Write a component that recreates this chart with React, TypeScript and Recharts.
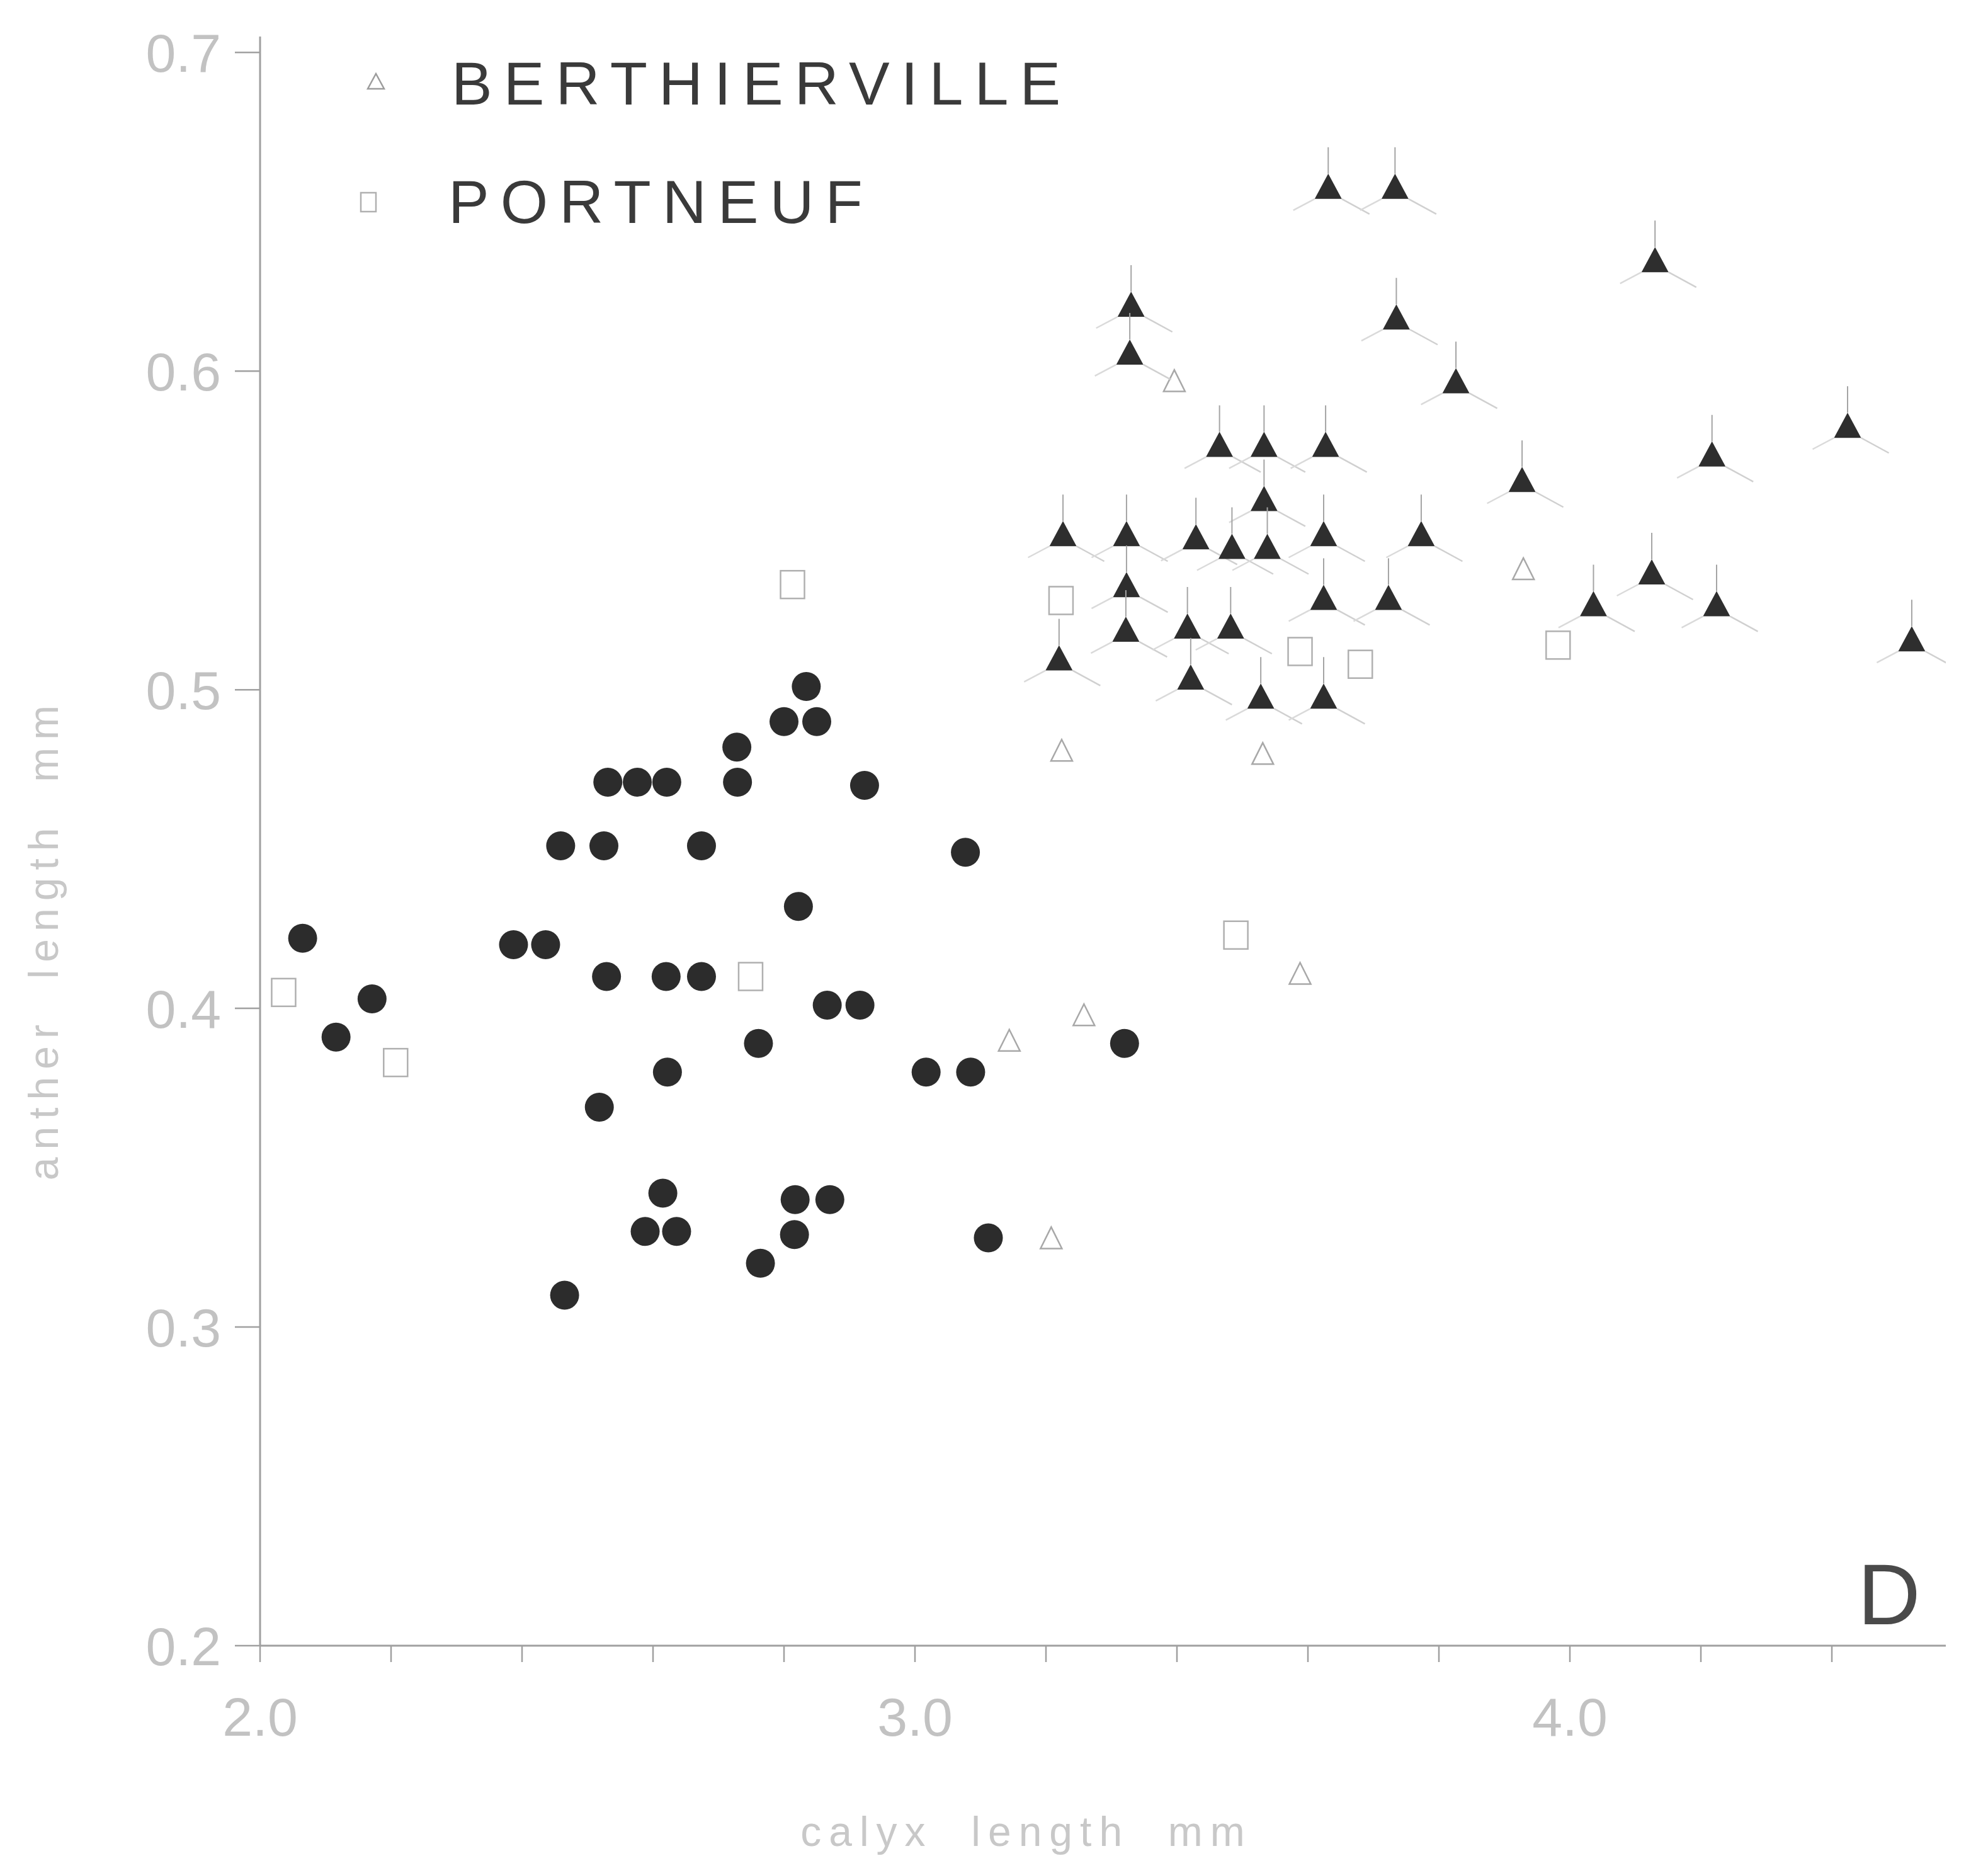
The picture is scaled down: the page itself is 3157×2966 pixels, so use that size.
import React from 'react';
import { ScatterChart, Scatter, XAxis, YAxis } from 'recharts';

// axis ticks
const xTicks = [2.0, 2.2, 2.4, 2.6, 2.8, 3.0, 3.2, 3.4, 3.6, 3.8, 4.0, 4.2, 4.4];
const xLabelled = [2.0, 3.0, 4.0];
const yTicks = [0.2, 0.3, 0.4, 0.5, 0.6, 0.7];

const legendNames = ['BERTHIERVILLE', 'PORTNEUF'];
const panelLetter = 'D';
const xTitle = 'calyx  length  mm';
const yTitle = 'anther  length  mm';

// [calyx length, anther length] in mm
const filledCircles: [number, number][] = [
  [2.065, 0.422], [2.171, 0.403], [2.116, 0.391], [2.387, 0.42], [2.436, 0.42],
  [2.459, 0.451], [2.525, 0.451], [2.529, 0.41], [2.518, 0.369], [2.465, 0.31],
  [2.531, 0.471], [2.576, 0.471], [2.621, 0.471], [2.62, 0.41], [2.674, 0.41],
  [2.622, 0.38], [2.615, 0.342], [2.588, 0.33], [2.636, 0.33], [2.674, 0.451],
  [2.728, 0.482], [2.729, 0.471], [2.761, 0.389], [2.764, 0.32], [2.8, 0.49],
  [2.834, 0.501], [2.85, 0.49], [2.822, 0.432], [2.817, 0.34], [2.87, 0.34],
  [2.816, 0.329], [2.866, 0.401], [2.916, 0.401], [2.923, 0.47], [3.017, 0.38],
  [3.085, 0.38], [3.077, 0.449], [3.112, 0.328], [3.32, 0.389],
];

const filledTriangles: [number, number][] = [
  [3.631, 0.658], [3.733, 0.658], [4.13, 0.635], [3.33, 0.621], [3.735, 0.617],
  [3.328, 0.606], [3.826, 0.597], [3.465, 0.577], [3.533, 0.577], [3.627, 0.577],
  [4.424, 0.583], [4.217, 0.574], [3.927, 0.566], [3.533, 0.56], [3.226, 0.549],
  [3.323, 0.549], [3.429, 0.548], [3.624, 0.549], [3.773, 0.549], [3.484, 0.545],
  [3.538, 0.545], [3.323, 0.533], [4.125, 0.537], [3.624, 0.529], [3.723, 0.529],
  [4.036, 0.527], [4.224, 0.527], [3.322, 0.519], [3.416, 0.52], [3.482, 0.52],
  [4.522, 0.516], [3.22, 0.51], [3.421, 0.504], [3.528, 0.498], [3.624, 0.498],
];

const berthierville: [number, number][] = [
  [3.396, 0.597], [3.929, 0.538], [3.224, 0.481], [3.531, 0.48],
  [3.588, 0.411], [3.258, 0.398], [3.144, 0.39], [3.208, 0.328],
];

const portneuf: [number, number][] = [
  [2.036, 0.405], [2.207, 0.383], [2.749, 0.41], [2.813, 0.533], [3.223, 0.528],
  [3.588, 0.512], [3.68, 0.508], [3.982, 0.514], [3.49, 0.423],
];

const rows = (pts: [number, number][]) => pts.map(([x, y]) => ({ x, y }));

const Dot = (p: any) => <circle cx={p.cx} cy={p.cy} r={23} fill="#2c2c2c" />;

// filled triangle with the faint three-armed glyph around it
const SpokedTriangle = (p: any) => {
  const { cx, cy } = p;
  const w = 43, h = 40;
  const top = cy - h / 2, base = cy + h / 2;
  return (
    <g>
      <line x1={cx} y1={top} x2={cx} y2={top - 42} stroke="#a4a4a4" strokeWidth={2} />
      <line x1={cx - w / 2} y1={base} x2={cx - w / 2 - 34} y2={base + 18} stroke="#dadada" strokeWidth={2.5} />
      <line x1={cx + w / 2} y1={base} x2={cx + w / 2 + 44} y2={base + 24} stroke="#d0d0d0" strokeWidth={2.5} />
      <polygon points={`${cx},${top} ${cx - w / 2},${base} ${cx + w / 2},${base}`} fill="#2e2e2e" />
    </g>
  );
};

const OpenTriangle = (p: any) => {
  const { cx, cy } = p;
  const w = 34, h = 34;
  return (
    <polygon
      points={`${cx},${cy - h / 2} ${cx - w / 2},${cy + h / 2} ${cx + w / 2},${cy + h / 2}`}
      fill="none"
      stroke="#a8a8a8"
      strokeWidth={2.5}
    />
  );
};

const OpenSquare = (p: any) => (
  <rect x={p.cx - 19} y={p.cy - 22} width={38} height={44} fill="none" stroke="#b0b0b0" strokeWidth={2.5} />
);

const tickStyle = { fill: '#c2c2c2', fontSize: 86, fontFamily: 'Liberation Sans' };

export default function App() {
  return (
    <div style={{ position: 'absolute', left: 0, top: 0, width: 3157, height: 2966, background: '#fff', fontFamily: 'Liberation Sans' }}>
      <ScatterChart width={3157} height={2966} margin={{ top: 58, right: 67, bottom: 153, left: 113 }}>
        <XAxis
          type="number"
          dataKey="x"
          domain={[2, 4.574]}
          ticks={xTicks}
          interval={0}
          allowDataOverflow
          height={200}
          tickSize={26}
          tickMargin={56}
          tick={tickStyle}
          tickFormatter={(v: number) => (xLabelled.some((m) => Math.abs(m - v) < 1e-6) ? v.toFixed(1) : '')}
          axisLine={{ stroke: '#a0a0a0', strokeWidth: 3 }}
          tickLine={{ stroke: '#a0a0a0', strokeWidth: 2.5 }}
        />
        <YAxis
          type="number"
          dataKey="y"
          domain={[0.2, 0.705]}
          ticks={yTicks}
          interval={0}
          allowDataOverflow
          width={300}
          tickSize={40}
          tickMargin={22}
          tick={tickStyle}
          tickFormatter={(v: number) => v.toFixed(1)}
          axisLine={{ stroke: '#a0a0a0', strokeWidth: 3 }}
          tickLine={{ stroke: '#a0a0a0', strokeWidth: 2.5 }}
        />
        <Scatter data={rows(filledCircles)} shape={Dot} isAnimationActive={false} />
        <Scatter data={rows(portneuf)} shape={OpenSquare} isAnimationActive={false} />
        <Scatter data={rows(berthierville)} shape={OpenTriangle} isAnimationActive={false} />
        <Scatter data={rows(filledTriangles)} shape={SpokedTriangle} isAnimationActive={false} />
      </ScatterChart>

      {/* legend, panel letter and axis titles */}
      <svg width={3157} height={2966} style={{ position: 'absolute', left: 0, top: 0, pointerEvents: 'none' }}>
        <polygon points="597,117 584,141 610,141" fill="none" stroke="#9c9c9c" strokeWidth={2.5} />
        <text x={717} y={166} fontSize={97} letterSpacing={18} fill="#3a3a3a">{legendNames[0]}</text>
        <rect x={573} y={306} width={24} height={30} fill="none" stroke="#b0b0b0" strokeWidth={2.5} />
        <text x={712} y={354} fontSize={97} letterSpacing={18} fill="#3a3a3a">{legendNames[1]}</text>
        <text x={2950} y={2579} fontSize={138} fill="#4a4a4a">{panelLetter}</text>
        <text x={1630} y={2931} fontSize={66} letterSpacing={12} textAnchor="middle" fill="#c8c8c8" xmlSpace="preserve">{xTitle}</text>
        <text x={92} y={1491} fontSize={66} letterSpacing={12} textAnchor="middle" fill="#c8c8c8" transform="rotate(-90, 92, 1491)" xmlSpace="preserve">{yTitle}</text>
      </svg>
    </div>
  );
}
